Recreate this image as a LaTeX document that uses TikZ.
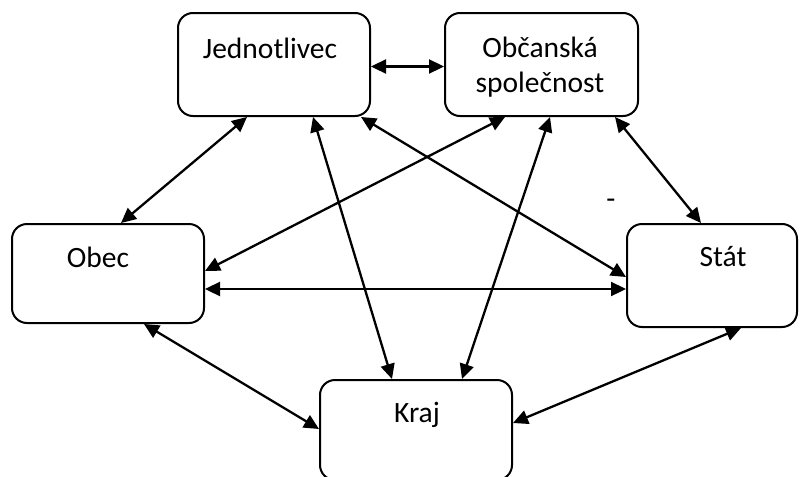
\documentclass[tikz,border=0pt]{standalone}
\usepackage{fontspec}
\setmainfont{Carlito}
\usetikzlibrary{arrows.meta,calc}
\begin{document}
\begin{tikzpicture}[x=1pt,y=-1pt,
  box/.style={draw,line width=2pt,rounded corners=15pt,inner sep=0pt},
  lbl/.style={font=\fontsize{29.5}{35}\selectfont,align=center,inner sep=0pt},
  arr/.style={line width=2.3pt,{Triangle[length=15pt,width=14pt]}-{Triangle[length=15pt,width=14pt]}}]
\useasboundingbox (0,0) rectangle (807,477);
\begin{scope}
\clip (0,0) rectangle (807,477);
\node[box,minimum width=192pt,minimum height=103pt] (J) at (274,64.5) {};
\node[box,minimum width=193pt,minimum height=103pt] (B) at (541.5,64.5) {};
\node[box,minimum width=192pt,minimum height=99pt] (O) at (108,273.5) {};
\node[box,minimum width=170pt,minimum height=103pt] (S) at (712,275.5) {};
\node[box,minimum width=192pt,minimum height=100pt] (K) at (416,430) {};
\end{scope}
\node[lbl] (tJ) at (270,48) {Jednotlivec};
\node[lbl] (tB) at (540,67.5) {Občanská\\společnost};
\node[lbl] (tO) at (98,257) {Obec};
\node[lbl] (tS) at (723,257) {Stát};
\node[lbl] (tK) at (417,415) {Kraj};
\node[lbl] (dash) at (611,204) {-};
% connectors
\draw[arr] ($(J.east)+(0,2)$) -- ($(B.west)+(0,2)$);
\draw[arr] ($(J.south west)+(70,0)$) -- ($(O.north west)+(110,0)$);
\draw[arr] ($(J.south west)+(136,0)$) -- ($(K.north west)+(73,0)$);
\draw[arr] ($(J.south west)+(184,0)$) -- ($(S.north west)+(0,54)$);
\draw[arr] ($(O.north east)+(0,48)$) -- ($(B.south west)+(61,0)$);
\draw[arr] ($(O.north east)+(0,66)$) -- ($(S.north west)+(0,66)$);
\draw[arr] ($(B.south west)+(106,0)$) -- ($(K.north west)+(143,0)$);
\draw[arr] ($(B.south west)+(171,0)$) -- ($(S.north west)+(75,0)$);
\draw[arr] ($(O.south west)+(133,0)$) -- ($(K.north west)+(0,50)$);
\draw[arr] ($(S.south west)+(115,0)$) -- ($(K.north east)+(0,44)$);
\end{tikzpicture}
\end{document}
